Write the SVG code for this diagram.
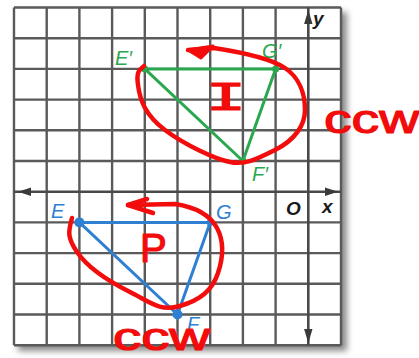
<svg xmlns="http://www.w3.org/2000/svg" width="419" height="358" viewBox="0 0 419 358">
<style>
.grid{stroke:#5a5a5a;stroke-width:2.4;fill:none}
.axis{stroke:#4a4a4a;stroke-width:2.6;fill:none}
.ah{fill:#3a3a3a}
.green{stroke:#2aa850;stroke-width:3;fill:none;stroke-linejoin:round}
.blue{stroke:#2f7fd2;stroke-width:3;fill:none;stroke-linejoin:round}
.glab{fill:#2aa850;font-family:"Liberation Sans",Arial,sans-serif;font-style:italic;font-size:20px}
.blab{fill:#2f7fd2;font-family:"Liberation Sans",Arial,sans-serif;font-style:italic;font-size:20px}
.alab{fill:#1a1a1a;font-family:"Liberation Sans",Arial,sans-serif;font-style:italic;font-weight:bold;font-size:19px}
.red{stroke:#f20c0c;stroke-width:4.5;fill:none;stroke-linecap:round;stroke-linejoin:round}
.rtxt{fill:#f20c0c;stroke:#f20c0c;stroke-width:1.2;stroke-linejoin:round;font-family:"Liberation Sans",Arial,sans-serif;font-weight:normal}
</style>
<defs>
<filter id="sh" x="-10%" y="-10%" width="120%" height="120%"><feGaussianBlur stdDeviation="3"/></filter>
<filter id="soft"><feGaussianBlur stdDeviation="0.5"/></filter>
</defs>
<rect width="419" height="358" fill="#fff"/>
<g id="grid">
<rect x="18" y="12" width="329" height="339" fill="#8a8a8a" filter="url(#sh)"/>
<rect x="14" y="7.5" width="327" height="337.7" fill="#fff"/>
<g class="grid" filter="url(#soft)">
<path d="M14,7.5V345.2M46.7,7.5V345.2M79.4,7.5V345.2M112.1,7.5V345.2M144.8,7.5V345.2M177.5,7.5V345.2M210.2,7.5V345.2M242.9,7.5V345.2M275.6,7.5V345.2M341,7.5V345.2"/>
<path d="M14,7.5H341M14,38.2H341M14,68.9H341M14,99.6H341M14,130.3H341M14,161H341M14,222.4H341M14,253.1H341M14,283.8H341M14,314.5H341M14,345.2H341"/>
</g>
</g>
<g id="axes">
<g class="axis" filter="url(#soft)">
<path d="M14,191.7H341"/>
<path d="M308.3,7.5V345.2"/>
</g>
<path class="ah" d="M18,191.7L31,187.5L31,195.9Z"/>
<path class="ah" d="M338,191.7L325,187.5L325,195.9Z"/>
<path class="ah" d="M308.3,10L304.1,24L312.5,24Z"/>
<path class="ah" d="M308.3,343L304.1,329L312.5,329Z"/>
<text class="alab" x="313" y="25">y</text>
<text class="alab" x="286" y="215">O</text>
<text class="alab" x="322" y="213">x</text>
</g>
<g id="triangle-image">
<path class="green" d="M144.8,68.9L275.6,68.9L242.9,161Z"/>
<circle cx="144.8" cy="68.9" r="3.5" fill="#2aa850"/>
<circle cx="275.6" cy="68.9" r="3.5" fill="#2aa850"/>
<circle cx="242.9" cy="161" r="3.5" fill="#2aa850"/>
<text class="glab" x="115" y="65">E′</text>
<text class="glab" x="262" y="58">G′</text>
<text class="glab" x="252" y="181">F′</text>
</g>
<g id="triangle-preimage">
<path class="blue" d="M79.4,222.4L210.2,222.4L177.5,314.5Z"/>
<circle cx="79.4" cy="222.4" r="5" fill="#2f7fd2"/>
<circle cx="210.2" cy="222.4" r="3.5" fill="#2f7fd2"/>
<circle cx="177.5" cy="314.5" r="5" fill="#2f7fd2"/>
<text class="blab" x="51" y="218">E</text>
<text class="blab" x="216" y="219">G</text>
<text class="blab" x="187" y="331">F</text>
</g>
<g id="annotations">
<path class="red" d="M188,50L214,48C240,52 270,58 285,68S305,95 305,110S295,140 275,150S245,165 230,162S185,145 165,130S140,100 138,85S140,70 144,66"/>
<path d="M188,50L213,46L201,58Z" fill="#f20c0c" stroke="#f20c0c" stroke-width="3" stroke-linejoin="round"/>
<text x="0" y="0" transform="translate(205.6,110) scale(1.7,1)" fill="#f20c0c" stroke="#f20c0c" stroke-width="1.2" font-family="'Liberation Mono',monospace" font-size="40">I</text>
<path class="red" d="M128,205L175,204C195,207 210,215 217,228S224,255 218,273S200,300 180,306S150,302 130,292S88,268 77,252S69,230 72,218"/>
<path class="red" d="M147,199L128,205L153,213"/>
<text class="rtxt" x="140" y="262" font-size="40">P</text>
<text class="rtxt" x="324" y="133" font-size="40" textLength="95" lengthAdjust="spacingAndGlyphs">ccw</text>
<text class="rtxt" x="113" y="350" font-size="38" textLength="97" lengthAdjust="spacingAndGlyphs">ccw</text>
</g>
</svg>
